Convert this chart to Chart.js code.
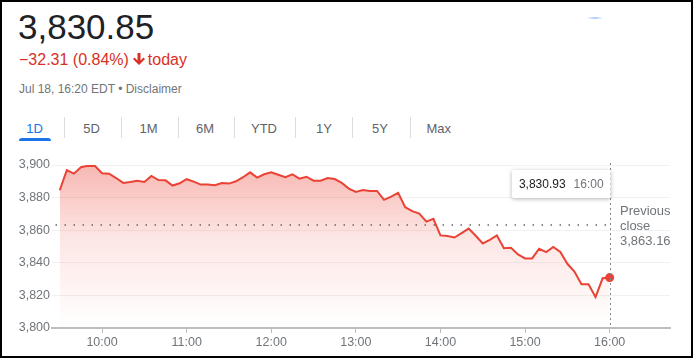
<!DOCTYPE html>
<html>
<head>
<meta charset="utf-8">
<script src="https://cdn.jsdelivr.net/npm/chart.js@4"></script>
<style>
  html, body { margin: 0; padding: 0; background: #fff; }
  body { width: 693px; height: 358px; position: relative; overflow: hidden; font-family: 'Liberation Sans', Arial, sans-serif; }
  .abs { position: absolute; white-space: nowrap; line-height: 1; }
  #price { left: 18px; top: 9px; font-size: 35px; color: #202124; }
  #change { left: 19px; top: 52px; font-size: 16px; color: #d93025; display: flex; align-items: flex-start; }
  #change svg { margin: 1px 3px 0 4px; }
  #stamp { left: 19px; top: 83px; font-size: 12px; color: #70757a; }
  .tab { top: 122px; font-size: 13px; color: #5f6368; transform: translateX(-50%); }
  .tab.on { color: #1a73e8; }
  .sep { position: absolute; top: 117px; width: 1px; height: 21px; background: #dadce0; }
  #underline { position: absolute; left: 19px; top: 138px; width: 32px; height: 3px; background: #1a73e8; border-radius: 3px 3px 0 0; }
  #blip { position: absolute; left: 588px; top: 17px; width: 14px; height: 2px; background: linear-gradient(to right, rgba(174,203,250,0.2), #aecbfa, rgba(174,203,250,0.2)); }
  #chart { position: absolute; left: 0; top: 0; }
  #frame { position: absolute; left: 0; top: 0; width: 693px; height: 358px; box-sizing: border-box; border: 2px solid #000; pointer-events: none; }
</style>
</head>
<body>
<div id="price" class="abs">3,830.85</div>
<div id="change" class="abs"><span>−32.31 (0.84%)</span><svg width="12" height="12" viewBox="4 4 16 16"><path fill="#d93025" d="M20 12l-2-2-4 4V4h-4v10l-4-4-2 2 8 8z"/></svg><span>today</span></div>
<div id="stamp" class="abs">Jul 18, 16:20 EDT • Disclaimer</div>
<div id="tabs"></div>
<div id="underline"></div>
<div id="blip"></div>
<canvas id="chart" width="693" height="358"></canvas>
<div id="frame"></div>
<script>
// ---------- data ----------
const times = [
  '09:30','09:35','09:40','09:45','09:50','09:55',
  '10:00','10:05','10:10','10:15','10:20','10:25','10:30','10:35','10:40','10:45','10:50','10:55',
  '11:00','11:05','11:10','11:15','11:20','11:25','11:30','11:35','11:40','11:45','11:50','11:55',
  '12:00','12:05','12:10','12:15','12:20','12:25','12:30','12:35','12:40','12:45','12:50','12:55',
  '13:00','13:05','13:10','13:15','13:20','13:25','13:30','13:35','13:40','13:45','13:50','13:55',
  '14:00','14:05','14:10','14:15','14:20','14:25','14:30','14:35','14:40','14:45','14:50','14:55',
  '15:00','15:05','15:10','15:15','15:20','15:25','15:30','15:35','15:40','15:45','15:50','15:55',
  '16:00'
];
const prices = [
  3884.5, 3896.9, 3894.7, 3898.6, 3899.6, 3899.4,
  3894.9, 3894.7, 3892.0, 3889.0, 3889.6, 3890.4, 3889.6, 3893.3, 3890.8, 3890.6, 3887.4, 3888.8,
  3891.3, 3889.8, 3888.0, 3888.0, 3887.6, 3889.0, 3888.6, 3890.0, 3892.5, 3895.5, 3892.3, 3894.3,
  3895.5, 3894.0, 3892.5, 3894.3, 3891.6, 3892.8, 3890.4, 3890.4, 3892.0, 3891.4, 3889.0, 3885.5,
  3883.5, 3884.7, 3884.1, 3884.1, 3878.6, 3880.6, 3882.9, 3874.1, 3871.7, 3870.2, 3865.3, 3867.0,
  3856.8, 3856.4, 3855.5, 3858.2, 3861.0, 3856.6, 3851.9, 3854.1, 3856.8, 3849.0, 3849.2, 3845.1,
  3842.7, 3842.7, 3848.6, 3846.6, 3849.7, 3846.6, 3839.4, 3834.6, 3826.8, 3826.8, 3818.9, 3830.5,
  3830.93
];
const previousClose = 3863.16;
const previousCloseFrom = '09:27';
const lastLabel = '3,830.93';
const xTickLabels = ['10:00','11:00','12:00','13:00','14:00','15:00','16:00'];
const yTickValues = [3800, 3820, 3840, 3860, 3880, 3900];
const yTickLabels = ['3,800','3,820','3,840','3,860','3,880','3,900'];
const xAxisMin = 564.5;   // minutes after midnight (09:24.5)
const xAxisMax = 1002.8;  // (16:42.8)
const tabLabels = ['1D','5D','1M','6M','YTD','1Y','5Y','Max'];

// ---------- tabs (layout) ----------
const tabCenters = [34.5, 91.5, 148.5, 205, 264, 324, 380, 438.8];
const sepX = [64, 121, 178, 234, 295, 352, 410];
const tabsEl = document.getElementById('tabs');
tabLabels.forEach((t, i) => {
  const d = document.createElement('div');
  d.className = 'abs tab' + (i === 0 ? ' on' : '');
  d.style.left = tabCenters[i] + 'px';
  d.textContent = t;
  tabsEl.appendChild(d);
});
sepX.forEach(x => {
  const s = document.createElement('div');
  s.className = 'sep';
  s.style.left = x + 'px';
  tabsEl.appendChild(s);
});

// ---------- helpers ----------
const toMin = s => { const [h, m] = s.split(':'); return (+h) * 60 + (+m); };
const points = times.map((t, i) => ({ x: toMin(t), y: prices[i] }));
const lastTime = toMin(times[times.length - 1]);
const xTickValues = xTickLabels.map(toMin);
const RED = '#ea4335';
const GREY = '#70757a';
const FONT = "'Liberation Sans', Arial, sans-serif";

Chart.defaults.font.family = FONT;

const overlay = {
  id: 'overlay',
  afterDatasetsDraw(chart) {
    const { ctx, chartArea, scales: { x, y } } = chart;
    const xp = Math.round(x.getPixelForValue(lastTime)) + 0.5;
    const yp = y.getPixelForValue(previousClose);
    ctx.save();
    ctx.strokeStyle = '#80868b';
    ctx.lineWidth = 1;
    ctx.setLineDash([2, 3]);
    ctx.beginPath();
    ctx.moveTo(xp, chartArea.top - 2);
    ctx.lineTo(xp, chartArea.bottom);
    ctx.stroke();
    ctx.setLineDash([]);
    ctx.fillStyle = GREY;
    ctx.font = '13px ' + FONT;
    ctx.textAlign = 'left';
    ctx.textBaseline = 'alphabetic';
    ctx.fillText('Previous', xp + 9.5, yp - 9.8);
    ctx.fillText('close', xp + 9.5, yp + 4.9);
    ctx.fillText(previousClose.toLocaleString('en-US', { minimumFractionDigits: 2 }), xp + 9.5, yp + 19.6);
    ctx.restore();
  },
  afterDraw(chart) {
    const { ctx, chartArea, scales: { x } } = chart;
    const xp = x.getPixelForValue(lastTime);
    ctx.save();
    ctx.font = '12px ' + FONT;
    const w1 = ctx.measureText(lastLabel).width;
    const w2 = ctx.measureText(times[times.length - 1]).width;
    const pad = 7, gap = 8;
    const w = pad * 2 + w1 + gap + w2, h = 28;
    const right = xp + 1, top = chartArea.top + 5;
    const left = right - w;
    ctx.shadowColor = 'rgba(0,0,0,0.3)';
    ctx.shadowBlur = 4;
    ctx.shadowOffsetY = 1;
    ctx.fillStyle = '#fff';
    ctx.beginPath();
    ctx.roundRect(left, top, w, h, 2);
    ctx.fill();
    ctx.shadowColor = 'transparent';
    ctx.textBaseline = 'alphabetic';
    ctx.textAlign = 'left';
    ctx.fillStyle = '#202124';
    ctx.fillText(lastLabel, left + pad, top + 17.6);
    ctx.fillStyle = GREY;
    ctx.fillText(times[times.length - 1], left + pad + w1 + gap, top + 17.6);
    ctx.restore();
  }
};

new Chart(document.getElementById('chart'), {
  type: 'line',
  data: {
    datasets: [
      {
        data: points,
        borderColor: RED,
        borderWidth: 2,
        tension: 0,
        fill: 'start',
        backgroundColor(c) {
          const a = c.chart.chartArea;
          if (!a) return 'rgba(234,67,53,0.2)';
          const g = c.chart.ctx.createLinearGradient(0, a.top, 0, a.bottom);
          g.addColorStop(0, 'rgba(234,67,53,0.38)');
          g.addColorStop(0.45, 'rgba(234,67,53,0.13)');
          g.addColorStop(1, 'rgba(234,67,53,0.0)');
          return g;
        },
        pointRadius: c => (c.dataIndex === points.length - 1 ? 4.5 : 0),
        pointBackgroundColor: RED,
        pointBorderWidth: 0,
        order: 1
      },
      {
        data: [{ x: toMin(previousCloseFrom), y: previousClose }, { x: lastTime, y: previousClose }],
        borderColor: '#5f6368',
        borderWidth: 1.5,
        borderDash: [1.5, 7.5],
        pointRadius: 0,
        fill: false,
        order: 2
      }
    ]
  },
  options: {
    responsive: false,
    devicePixelRatio: 1,
    animation: false,
    events: [],
    layout: { padding: { top: 165, right: 23, left: 0, bottom: 0 } },
    plugins: { legend: { display: false }, tooltip: { enabled: false } },
    scales: {
      x: {
        type: 'linear',
        min: xAxisMin,
        max: xAxisMax,
        afterBuildTicks(s) { s.ticks = xTickValues.map(v => ({ value: v })); },
        afterFit(s) { s.height = 30; },
        ticks: {
          autoSkip: false,
          maxRotation: 0,
          padding: 2,
          color: GREY,
          font: { size: 12.5 },
          callback: (v, i) => xTickLabels[i]
        },
        grid: { display: true, drawOnChartArea: false, drawTicks: true, tickLength: 5, color: '#bdbdbd', tickWidth: 1 },
        border: { display: true, color: '#bdbdbd', width: 2 }
      },
      y: {
        min: 3800,
        max: 3900,
        afterBuildTicks(s) { s.ticks = yTickValues.map(v => ({ value: v })); },
        afterFit(s) { s.width = 52; },
        ticks: {
          padding: 2,
          color: GREY,
          font: { size: 12.5 },
          callback: (v, i) => yTickLabels[i]
        },
        grid: { color: '#f1f1f1', drawTicks: false, lineWidth: 1 },
        border: { display: false }
      }
    }
  },
  plugins: [overlay]
});
</script>
</body>
</html>
